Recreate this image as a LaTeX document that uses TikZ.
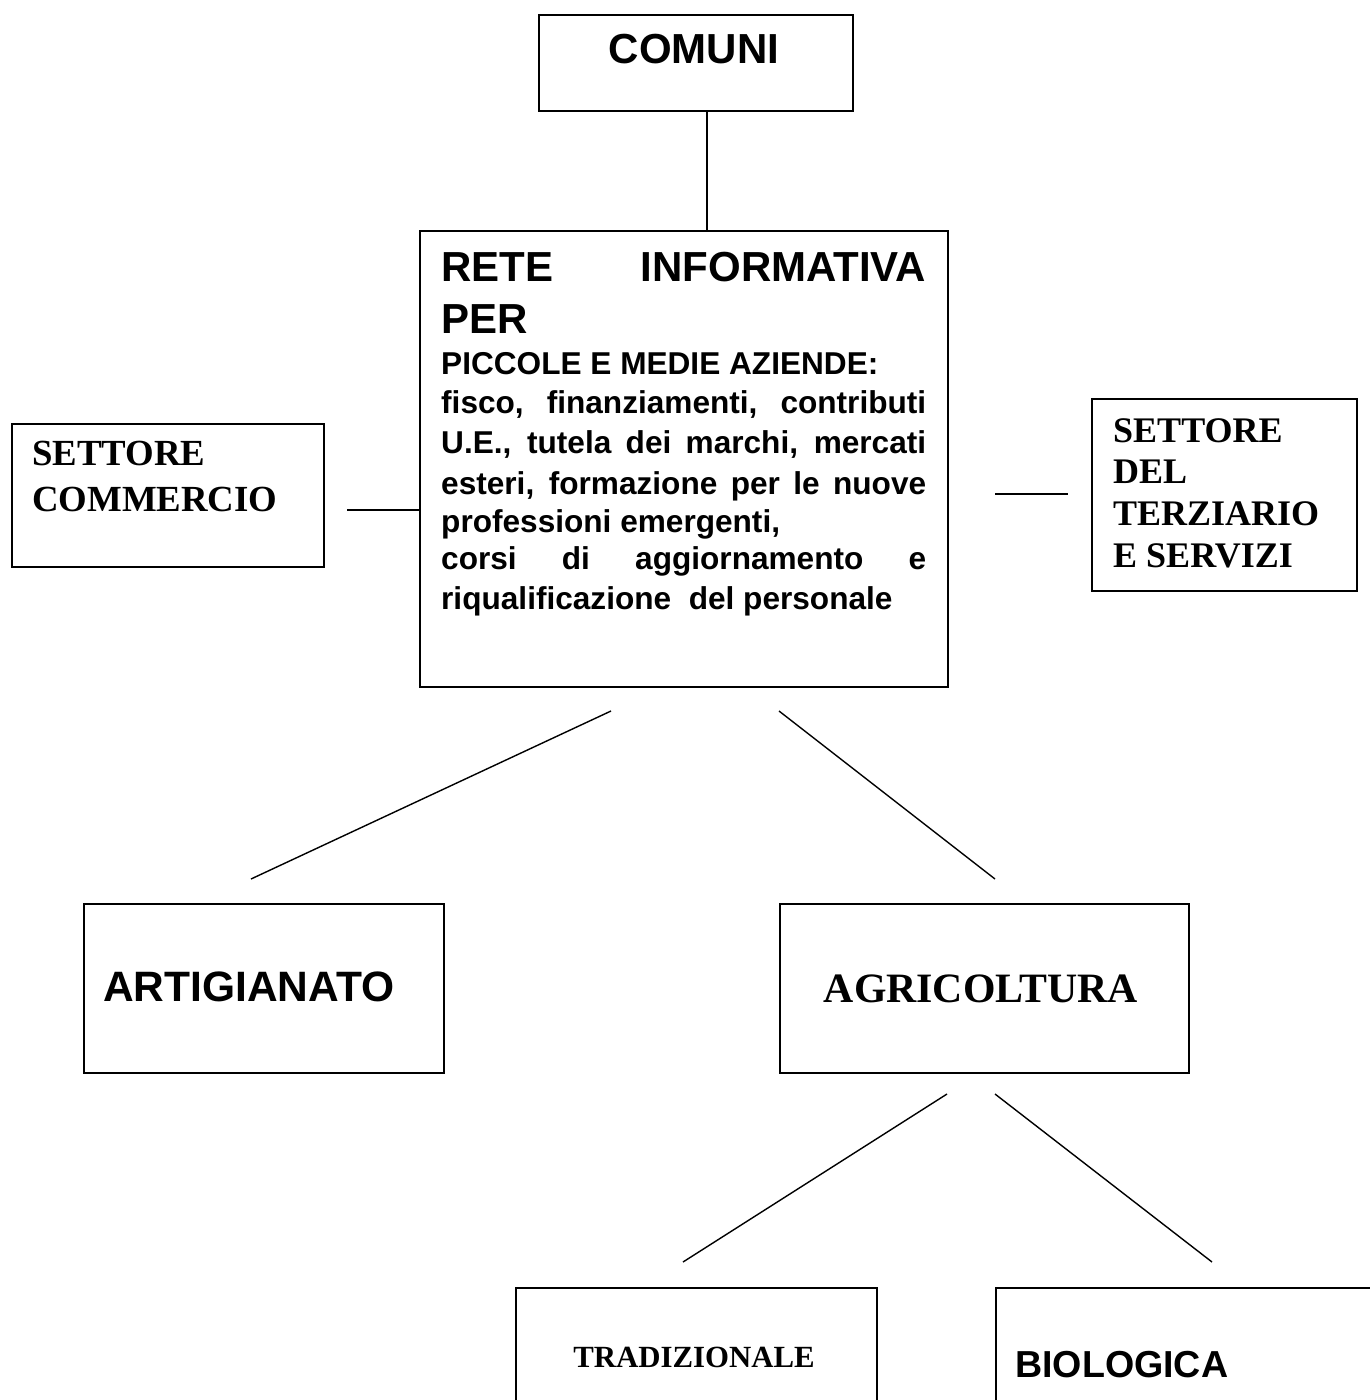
\documentclass[tikz,border=0pt]{standalone}
\usepackage{fontspec}
\setmainfont{Liberation Serif}
\setsansfont{Liberation Sans}
\newcommand{\sansB}[1]{\fontsize{#1}{#1}\selectfont\sffamily\bfseries}
\newcommand{\serifB}[1]{\fontsize{#1}{#1}\selectfont\rmfamily\bfseries}
\begin{document}
\begin{tikzpicture}[x=1pt,y=-1pt,
  box/.style={draw=black,line width=1.6pt,rectangle,inner sep=0pt,anchor=north west},
  lbl/.style={inner sep=0pt,anchor=base west},
  conn/.style={draw=black,line width=1.4pt}]
\useasboundingbox (0,0) rectangle (1370,1400);
\clip (0,0) rectangle (1370,1400);
\fill[white] (0,0) rectangle (1370,1400);

% boxes
\node[box,minimum width=314pt,minimum height=96pt] (comuni) at (538,14) {};
\node[box,minimum width=528pt,minimum height=456pt] (rete) at (419,230) {};
\node[box,minimum width=312pt,minimum height=143pt] (comm) at (11,423) {};
\node[box,minimum width=265pt,minimum height=192pt] (terz) at (1091,398) {};
\node[box,minimum width=360pt,minimum height=169pt] (artig) at (83,903) {};
\node[box,minimum width=409pt,minimum height=169pt] (agri) at (779,903) {};
\node[box,minimum width=361pt,minimum height=160pt] (trad) at (515,1287) {};
\node[box,minimum width=420pt,minimum height=160pt] (bio) at (995,1287) {};

% texts
\node[inner sep=0pt,anchor=base] (tcomuni) at (694,63) {\sansB{42pt}COMUNI};

\node[lbl] (r1) at (441,281) {\sansB{42pt}\makebox[485pt][s]{RETE INFORMATIVA}};
\node[lbl] (r2) at (441,333) {\sansB{42pt}PER};
\node[lbl] (r3) at (441,374) {\sansB{31.6pt}PICCOLE E MEDIE AZIENDE:};
\node[lbl] (r4) at (441,413) {\sansB{31.6pt}\makebox[485pt][s]{fisco, finanziamenti, contributi}};
\node[lbl] (r5) at (441,453) {\sansB{31.6pt}\makebox[485pt][s]{U.E., tutela dei marchi, mercati}};
\node[lbl] (r6) at (441,494) {\sansB{31.6pt}\makebox[485pt][s]{esteri, formazione per le nuove}};
\node[lbl] (r7) at (441,532) {\sansB{31.6pt}professioni emergenti,};
\node[lbl] (r8) at (441,569) {\sansB{31.6pt}\makebox[485pt][s]{corsi di aggiornamento e}};
\node[lbl] (r9) at (441,609) {\sansB{31.6pt}riqualificazione\ \ del personale};

\node[lbl] (c1) at (32,465) {\serifB{36.8pt}SETTORE};
\node[lbl] (c2) at (32,511) {\serifB{36.8pt}COMMERCIO};

\node[lbl] (s1) at (1113,442) {\serifB{36pt}SETTORE};
\node[lbl] (s2) at (1113,483) {\serifB{36pt}DEL};
\node[lbl] (s3) at (1113,525) {\serifB{36pt}TERZIARIO};
\node[lbl] (s4) at (1113,567) {\serifB{36pt}E SERVIZI};

\node[lbl] (tartig) at (103,1001) {\sansB{42.5pt}ARTIGIANATO};
\node[inner sep=0pt,anchor=base] (tagri) at (981,1002) {\serifB{41.8pt}AGRICOLTURA};
\node[inner sep=0pt,anchor=base] (ttrad) at (694,1367) {\serifB{30.8pt}TRADIZIONALE};
\node[lbl] (tbio) at (1015,1377) {\sansB{37.6pt}BIOLOGICA};

% connectors
\coordinate (cx) at (707,0);
\draw[conn] (comuni.south -| cx) -- (rete.north -| cx);
\coordinate (lL) at (347,510);
\draw[conn] (lL) -- (lL -| rete.west);
\coordinate (rA) at (995,494);
\coordinate (rB) at (1068,494);
\draw[conn] (rA) -- (rB);
\coordinate (d1a) at (611,711);
\coordinate (d1b) at (251,879);
\draw[conn] (d1a) -- (d1b);
\coordinate (d2a) at (779,711);
\coordinate (d2b) at (995,879);
\draw[conn] (d2a) -- (d2b);
\coordinate (d3a) at (947,1094);
\coordinate (d3b) at (683,1262);
\draw[conn] (d3a) -- (d3b);
\coordinate (d4a) at (995,1094);
\coordinate (d4b) at (1212,1262);
\draw[conn] (d4a) -- (d4b);
\end{tikzpicture}
\end{document}
